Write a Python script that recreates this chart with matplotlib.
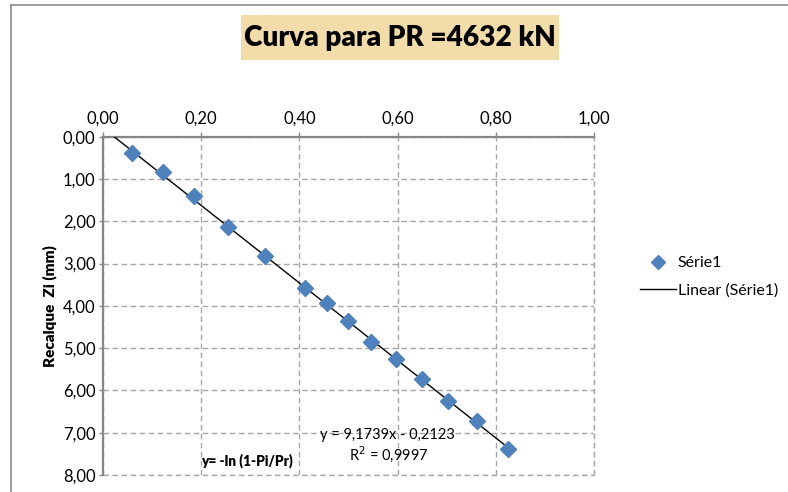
import numpy as np
import matplotlib
matplotlib.use("Agg")
import matplotlib.pyplot as plt
from matplotlib.patches import Rectangle
from matplotlib.lines import Line2D

plt.rcParams['font.family'] = ['Lato', 'DejaVu Sans']

# Measured data: -ln(1 - Pi/Pr) versus settlement Zi
x_vals = [0.059, 0.122, 0.186, 0.254, 0.331, 0.412, 0.456, 0.498,
          0.546, 0.596, 0.649, 0.703, 0.761, 0.824]
zi_vals = [0.39, 0.84, 1.40, 2.13, 2.81, 3.58, 3.94, 4.37,
           4.85, 5.26, 5.74, 6.24, 6.72, 7.39]

# Linear trendline reported for the series
slope = 9.1739
intercept = -0.2123
r2 = 0.9997

x_ticks = [0.0, 0.2, 0.4, 0.6, 0.8, 1.0]
x_tick_labels = ["0,00", "0,20", "0,40", "0,60", "0,80", "1,00"]
y_ticks = [0, 1, 2, 3, 4, 5, 6, 7, 8]
y_tick_labels = ["0,00", "1,00", "2,00", "3,00", "4,00", "5,00", "6,00", "7,00", "8,00"]

W, H = 788, 492
fig = plt.figure(figsize=(W / 100, H / 100), dpi=100)
fig.patch.set_facecolor("white")

# Chart-area border (left and top edges visible)
fig.add_artist(Line2D([11 / W, 11 / W], [0, 1 - 5 / H], color="#8c8c8c", lw=1.2,
                      transform=fig.transFigure))
fig.add_artist(Line2D([11 / W, 1], [1 - 5 / H, 1 - 5 / H], color="#8c8c8c", lw=1.2,
                      transform=fig.transFigure))

ax = fig.add_axes([102.7 / W, 1 - 475 / H, (594.3 - 102.7) / W, (475 - 136.7) / H])
ax.set_xlim(0, 1)
ax.set_ylim(8, 0)

ax.xaxis.tick_top()
ax.set_xticks(x_ticks)
ax.set_xticklabels(x_tick_labels, fontsize=12)
ax.set_yticks(y_ticks)
ax.set_yticklabels(y_tick_labels, fontsize=12)
ax.tick_params(axis="x", direction="out", length=3.5, width=1, color="#868686", pad=4)
ax.tick_params(axis="y", direction="out", length=3.2, width=1, color="#868686", pad=2)

for side in ("right", "bottom"):
    ax.spines[side].set_visible(False)
for side in ("left", "top"):
    ax.spines[side].set_color("#868686")
    ax.spines[side].set_linewidth(1.6)

ax.grid(True, linestyle=(0, (4, 2.5)), color="#a6a6a6", linewidth=1.0)
ax.set_axisbelow(True)
# Dashed gridlines at the far edges
ax.axvline(1.0, linestyle=(0, (4, 2.5)), color="#a6a6a6", linewidth=1.0, clip_on=False, zorder=0.5)
ax.axhline(8.0, linestyle=(0, (4, 2.5)), color="#a6a6a6", linewidth=1.0, clip_on=False, zorder=0.5)

# Trendline
xt = np.array([0.0, max(x_vals)])
ax.plot(xt, slope * xt + intercept, color="black", lw=1.0, zorder=3)

# Data points
ax.plot(x_vals, zi_vals, linestyle="none", marker="D", markersize=8.5,
        color="#4f81bd", markeredgecolor="#4f81bd", zorder=4)

ax.set_ylabel("Recalque  Zi (mm)", fontsize=11, fontweight="heavy", labelpad=4)

ax.text(0.580, 7.05, "y = 9,1739x - 0,2123", ha="center", va="center", fontsize=10.5)
ax.text(0.582, 7.50, "R$^2$ = 0,9997", ha="center", va="center", fontsize=10.5)
ax.text(0.2925, 7.67, "y= -ln (1-Pi/Pr)", ha="center", va="center", fontsize=9.8, fontweight="heavy")

# Title with parchment-coloured box
fig.add_artist(Rectangle((241 / W, 1 - 60 / H), (559 - 241) / W, 45 / H,
                         transform=fig.transFigure, facecolor="#f1dcaa",
                         edgecolor="none"))
fig.text(400 / W, 1 - 38 / H, "Curva para PR =4632 kN", ha="center", va="center",
         fontsize=20.2, fontweight="heavy", color="black")

# Legend
leg_handles = [
    Line2D([], [], linestyle="none", marker="D", markersize=7.5, color="#4f81bd"),
    Line2D([], [], color="black", lw=1.0),
]
fig.legend(leg_handles, ["Série1", "Linear (Série1)"], loc="center left",
           bbox_to_anchor=(626 / W, 1 - 277 / H), frameon=False, fontsize=11.5,
           handlelength=2.2, handletextpad=0.15, labelspacing=0.85)

fig.savefig("out.png", dpi=100)
